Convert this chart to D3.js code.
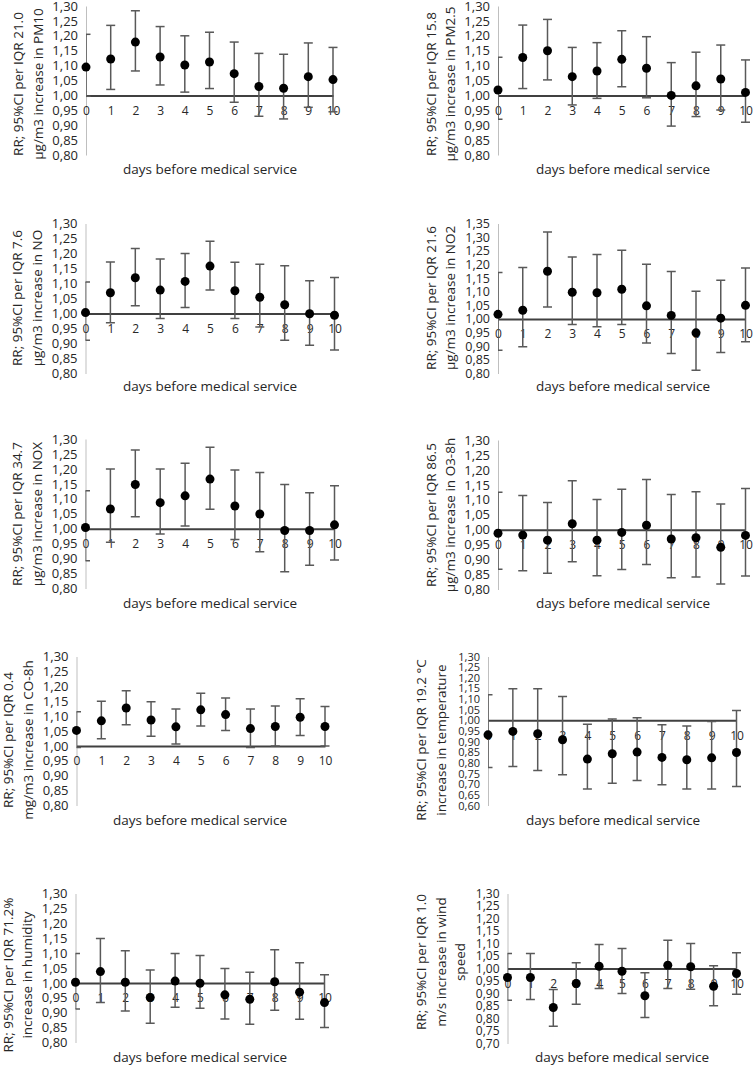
<html>
<head>
    <title>RR per IQR increase, lag days</title>
    <script src="https://d3js.org/d3.v7.min.js"></script>
    <style>
        body { margin: 0; background: #fff; }
        svg text { font-family: "Open Sans", "Noto Sans", sans-serif; fill: #262626; }
    </style>
</head>
<body>
    <div id="cont"></div>
    <script>
        // lag days on the x axis
        var days = [0, 1, 2, 3, 4, 5, 6, 7, 8, 9, 10];

        // relative risk, lower and upper 95% CI
        var pm10RR = [1.095, 1.122, 1.179, 1.129, 1.102, 1.112, 1.073, 1.030, 1.024, 1.063, 1.053];
        var pm10Lo = [0.997, 1.020, 1.082, 1.035, 1.011, 1.023, 0.977, 0.930, 0.921, 0.960, 0.945];
        var pm10Hi = [1.205, 1.235, 1.284, 1.231, 1.200, 1.212, 1.179, 1.141, 1.138, 1.176, 1.161];

        var pm25RR = [1.018, 1.127, 1.150, 1.063, 1.082, 1.121, 1.091, 1.000, 1.032, 1.055, 1.010];
        var pm25Lo = [0.920, 1.023, 1.052, 0.968, 0.990, 1.029, 0.992, 0.897, 0.929, 0.951, 0.910];
        var pm25Hi = [1.128, 1.236, 1.255, 1.161, 1.177, 1.217, 1.197, 1.110, 1.145, 1.169, 1.119];

        var noRR = [1.003, 1.069, 1.119, 1.078, 1.107, 1.158, 1.076, 1.054, 1.029, 0.999, 0.994];
        var noLo = [0.911, 0.969, 1.026, 0.983, 1.020, 1.078, 0.983, 0.955, 0.911, 0.894, 0.878];
        var noHi = [1.105, 1.172, 1.217, 1.182, 1.200, 1.241, 1.171, 1.164, 1.159, 1.109, 1.120];

        var no2RR = [1.017, 1.032, 1.175, 1.098, 1.096, 1.109, 1.048, 1.013, 0.949, 1.003, 1.050];
        var no2Lo = [0.885, 0.898, 1.044, 0.980, 0.971, 0.980, 0.912, 0.873, 0.812, 0.877, 0.916];
        var no2Hi = [1.170, 1.189, 1.319, 1.227, 1.236, 1.252, 1.201, 1.174, 1.102, 1.142, 1.187];

        var noxRR = [1.004, 1.066, 1.148, 1.087, 1.110, 1.166, 1.076, 1.049, 0.994, 0.994, 1.013];
        var noxLo = [0.893, 0.955, 1.040, 0.982, 1.009, 1.065, 0.964, 0.923, 0.856, 0.878, 0.895];
        var noxHi = [1.127, 1.200, 1.263, 1.200, 1.219, 1.272, 1.196, 1.188, 1.148, 1.120, 1.144];

        var o3RR = [0.988, 0.982, 0.965, 1.020, 0.965, 0.991, 1.015, 0.969, 0.973, 0.941, 0.981];
        var o3Lo = [0.868, 0.863, 0.854, 0.893, 0.846, 0.867, 0.884, 0.839, 0.842, 0.818, 0.845];
        var o3Hi = [1.125, 1.114, 1.091, 1.164, 1.101, 1.135, 1.168, 1.118, 1.127, 1.086, 1.138];

        var coRR = [1.052, 1.084, 1.127, 1.087, 1.064, 1.121, 1.105, 1.058, 1.065, 1.096, 1.065];
        var coLo = [0.995, 1.024, 1.071, 1.032, 1.006, 1.067, 1.052, 0.995, 1.000, 1.035, 1.000];
        var coHi = [1.115, 1.150, 1.185, 1.148, 1.124, 1.177, 1.161, 1.124, 1.134, 1.158, 1.132];

        var tempRR = [0.932, 0.948, 0.937, 0.909, 0.818, 0.843, 0.851, 0.826, 0.815, 0.824, 0.849];
        var tempLo = [0.779, 0.783, 0.764, 0.744, 0.678, 0.705, 0.718, 0.697, 0.678, 0.678, 0.689];
        var tempHi = [1.120, 1.148, 1.148, 1.112, 0.982, 1.006, 1.012, 0.979, 0.974, 0.995, 1.046];

        var humRR = [1.002, 1.038, 1.002, 0.951, 1.006, 0.999, 0.960, 0.945, 1.004, 0.969, 0.934];
        var humLo = [0.912, 0.934, 0.906, 0.865, 0.918, 0.915, 0.879, 0.861, 0.908, 0.878, 0.850];
        var humHi = [1.099, 1.149, 1.108, 1.043, 1.099, 1.092, 1.048, 1.036, 1.111, 1.068, 1.027];

        var windRR = [0.964, 0.964, 0.844, 0.940, 1.009, 0.989, 0.891, 1.013, 1.007, 0.929, 0.980];
        var windLo = [0.873, 0.876, 0.769, 0.857, 0.920, 0.900, 0.804, 0.920, 0.917, 0.851, 0.897];
        var windHi = [1.060, 1.060, 0.916, 1.023, 1.096, 1.080, 0.983, 1.113, 1.100, 1.011, 1.063];

        // y axis ranges [min, max]
        var yRangeDefault = [0.80, 1.30];
        var yRangeNO2 = [0.80, 1.35];
        var yRangeTemp = [0.60, 1.30];
        var yRangeWind = [0.70, 1.30];

        var xLabel = 'days before medical service';

        var panels = [
            {rr: pm10RR, lo: pm10Lo, hi: pm10Hi, yr: yRangeDefault,
             title: ['RR; 95%CI per IQR 21.0', '\u00b5g/m3 increase in PM10'],
             x0: 86, x1: 333, top: 6, bottom: 155, tx: [18, 38], ty: 84, lx: 210, ly: 169, tf: 13},
            {rr: pm25RR, lo: pm25Lo, hi: pm25Hi, yr: yRangeDefault,
             title: ['RR; 95%CI per IQR  15.8', '\u00b5g/m3 increase in PM2.5'],
             x0: 498, x1: 745.5, top: 6, bottom: 155, tx: [431, 450], ty: 84, lx: 623, ly: 169, tf: 13},
            {rr: noRR, lo: noLo, hi: noHi, yr: yRangeDefault,
             title: ['RR; 95%CI per IQR 7.6', '\u00b5g/m3 increase in NO'],
             x0: 85.5, x1: 334.5, top: 223.5, bottom: 373.5, tx: [17, 37], ty: 298, lx: 210, ly: 386, tf: 13},
            {rr: no2RR, lo: no2Lo, hi: no2Hi, yr: yRangeNO2,
             title: ['RR; 95%CI per IQR 21.6', '\u00b5g/m3 increase in NO2'],
             x0: 498, x1: 745.5, top: 223.5, bottom: 373.5, tx: [431, 450], ty: 298, lx: 623, ly: 386, tf: 12.5},
            {rr: noxRR, lo: noxLo, hi: noxHi, yr: yRangeDefault,
             title: ['RR; 95%CI per IQR 34.7', '\u00b5g/m3 increase in NOX'],
             x0: 85.5, x1: 334.5, top: 439, bottom: 588.5, tx: [17, 37], ty: 514, lx: 210, ly: 603, tf: 13},
            {rr: o3RR, lo: o3Lo, hi: o3Hi, yr: yRangeDefault,
             title: ['RR; 95%CI per IQR 86.5', '\u00b5g/m3 increase in O3-8h'],
             x0: 498, x1: 745.5, top: 440, bottom: 589.5, tx: [431, 450], ty: 515, lx: 623, ly: 603, tf: 13},
            {rr: coRR, lo: coLo, hi: coHi, yr: yRangeDefault,
             title: ['RR; 95%CI per IQR 0.4', 'mg/m3 increase in CO-8h'],
             x0: 76.5, x1: 325, top: 656.5, bottom: 805.5, tx: [8, 28], ty: 740, lx: 200, ly: 820, tf: 13},
            {rr: tempRR, lo: tempLo, hi: tempHi, yr: yRangeTemp,
             title: ['RR; 95%CI per IQR 19.2 \u00b0C', 'increase in temperature'],
             x0: 488, x1: 736.5, top: 656.5, bottom: 805.5, tx: [421, 441], ty: 740, lx: 613, ly: 820, tf: 11},
            {rr: humRR, lo: humLo, hi: humHi, yr: yRangeDefault,
             title: ['RR; 95%CI per IQR 71.2%', 'increase in humidity'],
             x0: 75.5, x1: 324.5, top: 893.5, bottom: 1042.5, tx: [8, 27], ty: 975, lx: 200, ly: 1057, tf: 13},
            {rr: windRR, lo: windLo, hi: windHi, yr: yRangeWind,
             title: ['RR; 95%CI per IQR 1.0', 'm/s increase in wind', 'speed'],
             x0: 507.5, x1: 736.5, top: 893.5, bottom: 1043.5, tx: [421, 441, 460], ty: 962, lx: 622, ly: 1057, tf: 12}
        ];

        var W = 755, H = 1066;
        var svg = d3.select('#cont').append('svg')
            .attr('width', W)
            .attr('height', H);

        var fmt = function(d) {
            return d3.format('.2f')(d).replace('.', ',');
        };

        panels.forEach(function(p, n) {
            var g = svg.append('g');

            var x = d3.scaleLinear().domain([0, 10]).range([p.x0, p.x1]);
            var y = d3.scaleLinear().domain(p.yr).range([p.bottom, p.top]);

            var steps = Math.round((p.yr[1] - p.yr[0]) / 0.05);
            var yTicks = d3.range(steps + 1).map(function(i) {
                return +(p.yr[0] + i * 0.05).toFixed(2);
            });

            //plot area clip: caps at day 0 only show to the right of the axis
            svg.append('clipPath')
                .attr('id', 'clip' + n)
                .append('rect')
                .attr('x', p.x0)
                .attr('y', p.top - 10)
                .attr('width', W - p.x0)
                .attr('height', p.bottom - p.top + 20);

            //y axis
            var ya = g.append('g')
                .attr('transform', 'translate(' + p.x0 + ',0)')
                .call(d3.axisLeft(y).tickValues(yTicks).tickSize(0).tickPadding(8).tickFormat(fmt));
            ya.select('.domain').attr('stroke', '#bfbfbf').attr('stroke-width', 1);
            ya.selectAll('text')
                .style('font-size', p.tf + 'px')
                .attr('fill', '#262626');

            //category axis crossing at RR = 1
            var xa = g.append('g')
                .attr('transform', 'translate(0,' + y(1) + ')')
                .call(d3.axisBottom(x).tickValues(days).tickSize(0).tickPadding(11).tickFormat(d3.format('d')));
            xa.select('.domain').attr('stroke', '#404040').attr('stroke-width', 2);
            xa.selectAll('text')
                .style('font-size', '12px')
                .style('opacity', 0.99)
                .attr('fill', '#262626');

            //error bars
            var bars = g.append('g')
                .attr('clip-path', 'url(#clip' + n + ')')
                .selectAll('.bar')
                .data(days)
                .enter()
                .append('g')
                .attr('class', 'bar');

            bars.append('line')
                .attr('x1', function(d) { return x(d); })
                .attr('x2', function(d) { return x(d); })
                .attr('y1', function(d, i) { return y(p.lo[i]); })
                .attr('y2', function(d, i) { return y(p.hi[i]); });
            bars.append('line')
                .attr('x1', function(d) { return x(d) - 4.5; })
                .attr('x2', function(d) { return x(d) + 4.5; })
                .attr('y1', function(d, i) { return y(p.hi[i]); })
                .attr('y2', function(d, i) { return y(p.hi[i]); });
            bars.append('line')
                .attr('x1', function(d) { return x(d) - 4.5; })
                .attr('x2', function(d) { return x(d) + 4.5; })
                .attr('y1', function(d, i) { return y(p.lo[i]); })
                .attr('y2', function(d, i) { return y(p.lo[i]); });
            bars.selectAll('line')
                .attr('stroke', '#595959')
                .attr('stroke-width', 1.5);

            //points
            g.selectAll('.pt')
                .data(days)
                .enter()
                .append('circle')
                .attr('class', 'pt')
                .attr('cx', function(d) { return x(d); })
                .attr('cy', function(d, i) { return y(p.rr[i]); })
                .attr('r', 4.5)
                .attr('fill', '#000');

            //titles
            p.title.forEach(function(t, k) {
                g.append('text')
                    .attr('transform', 'translate(' + p.tx[k] + ',' + p.ty + ') rotate(-90)')
                    .attr('text-anchor', 'middle')
                    .attr('dominant-baseline', 'central')
                    .style('font-size', '13.5px')
                    .text(t);
            });

            g.append('text')
                .attr('x', p.lx)
                .attr('y', p.ly)
                .attr('text-anchor', 'middle')
                .attr('dominant-baseline', 'central')
                .style('font-size', '13.5px')
                .text(xLabel);
        });
    </script>
</body>
</html>
